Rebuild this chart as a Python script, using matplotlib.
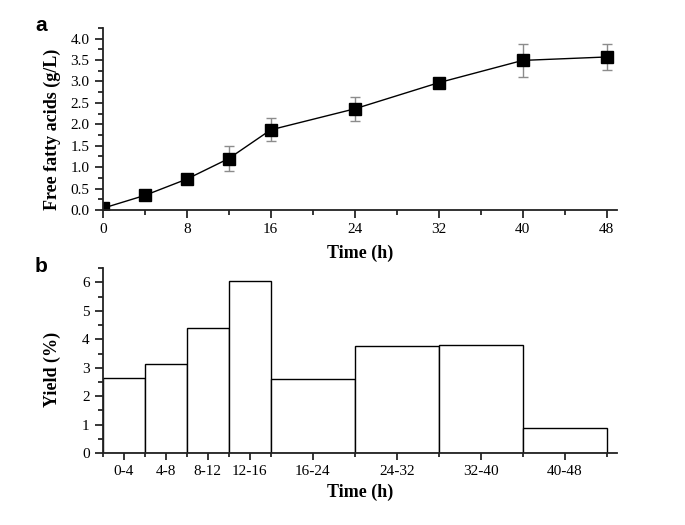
import numpy as np
import matplotlib
matplotlib.use("Agg")
import matplotlib.pyplot as plt
from matplotlib.ticker import MultipleLocator, FixedLocator

# panel a: free fatty acids over time
time_h = [0, 4, 8, 12, 16, 24, 32, 40, 48]
ffa = [0.04, 0.34, 0.72, 1.20, 1.87, 2.36, 2.97, 3.49, 3.57]
ffa_err = [0.0, 0.0, 0.0, 0.29, 0.27, 0.28, 0.02, 0.39, 0.31]

# panel b: yield per interval
interval_start = [0, 4, 8, 12, 16, 24, 32, 40]
interval_width = [4, 4, 4, 4, 8, 8, 8, 8]
interval_labels = ["0-4", "4-8", "8-12", "12-16", "16-24", "24-32", "32-40", "40-48"]
yield_pct = [2.63, 3.15, 4.40, 6.06, 2.59, 3.76, 3.81, 0.87]

plt.rcParams["font.family"] = ["Liberation Serif", "DejaVu Serif"]
plt.rcParams["font.size"] = 11

fig = plt.figure(figsize=(6.85, 5.25), dpi=100)
ax1 = fig.add_axes([0.150, 0.600, 0.751, 0.347])
ax2 = fig.add_axes([0.150, 0.137, 0.751, 0.352])

for ax in (ax1, ax2):
    ax.spines["top"].set_visible(False)
    ax.spines["right"].set_visible(False)
    ax.spines["left"].set_linewidth(1.3)
    ax.spines["bottom"].set_linewidth(1.3)
    ax.spines["left"].set_color("#222222")
    ax.spines["bottom"].set_color("#222222")
    ax.tick_params(which="major", direction="out", length=6, width=1.1, labelsize=11)
    ax.tick_params(which="minor", direction="out", length=3.5, width=1.1)
    ax.set_xlim(0, 49)

# top panel
ax1.errorbar(time_h, ffa, yerr=ffa_err, fmt="-s", color="black", ms=8, lw=1,
             ecolor="#8c8c8c", elinewidth=1, capsize=3.5, capthick=1)
ax1.set_ylim(0, 4.25)
ax1.yaxis.set_major_locator(MultipleLocator(0.5))
ax1.yaxis.set_minor_locator(MultipleLocator(0.25))
ax1.yaxis.set_major_formatter(matplotlib.ticker.FormatStrFormatter("%.1f"))
ax1.xaxis.set_major_locator(MultipleLocator(8))
ax1.xaxis.set_minor_locator(MultipleLocator(4))
ax1.set_xlabel("Time (h)", fontsize=13, fontweight="bold", labelpad=6)
ax1.set_ylabel("Free fatty acids (g/L)", fontsize=13, fontweight="bold")
ax1.yaxis.set_label_coords(-0.082, 0.445)

# bottom panel
ax2.bar(interval_start, yield_pct, width=interval_width, align="edge",
        color="white", edgecolor="black", linewidth=1)
centers = [s + w / 2 for s, w in zip(interval_start, interval_width)]
edges = interval_start + [interval_start[-1] + interval_width[-1]]
ax2.xaxis.set_major_locator(FixedLocator(centers))
ax2.set_xticklabels(interval_labels)
ax2.xaxis.set_minor_locator(FixedLocator(edges))
ax2.tick_params(axis="x", which="major", length=5)
ax2.tick_params(axis="x", which="minor", length=3)
ax2.set_ylim(0, 6.5)
ax2.yaxis.set_major_locator(MultipleLocator(1))
ax2.yaxis.set_minor_locator(MultipleLocator(0.5))
ax2.set_xlabel("Time (h)", fontsize=13, fontweight="bold", labelpad=4)
ax2.set_ylabel("Yield (%)", fontsize=13, fontweight="bold")
ax2.yaxis.set_label_coords(-0.082, 0.45)

fig.text(0.051, 0.952, "a", family="Liberation Sans", fontsize=15, fontweight="bold",
         ha="left", va="center")
fig.text(0.051, 0.492, "b", family="Liberation Sans", fontsize=15, fontweight="bold",
         ha="left", va="center")

fig.savefig("out.png", dpi=100)
